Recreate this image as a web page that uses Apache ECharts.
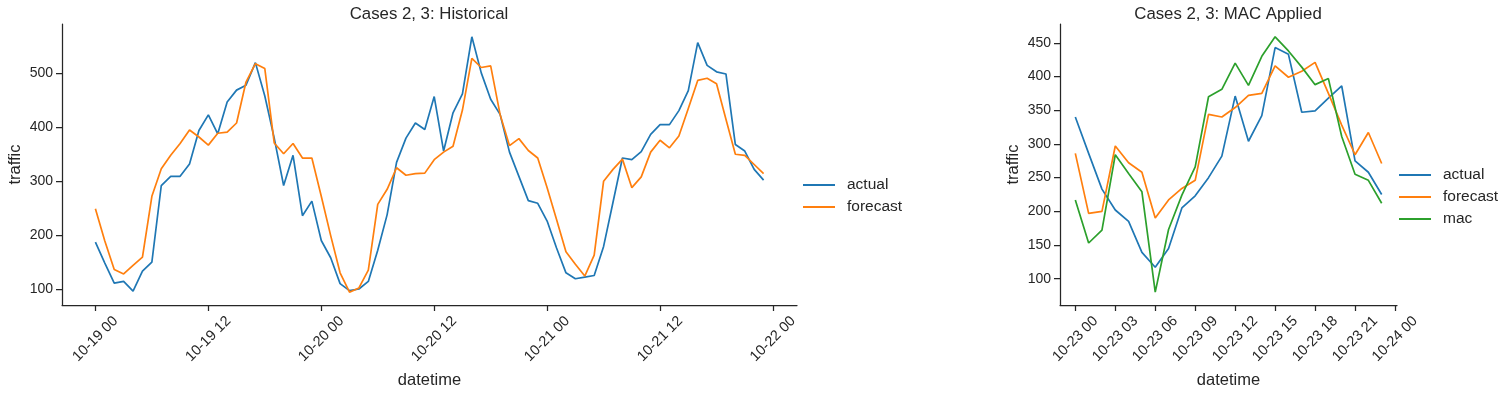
<!DOCTYPE html>
<html>
<head>
<meta charset="utf-8">
<script src="https://cdn.jsdelivr.net/npm/echarts@6/dist/echarts.min.js"></script>
<style>
  html, body { margin: 0; padding: 0; background: #ffffff; }
  #chart { width: 1511px; height: 394px; }
</style>
</head>
<body>
<div id="chart"></div>
<script>
// ---------- data ----------
const histTitle = 'Cases 2, 3: Historical';
const macTitle = 'Cases 2, 3: MAC Applied';

// hourly values from 10-19 00 to 10-21 23
const histActual = [187, 148, 111, 114, 96, 133, 150, 292, 309, 309, 332, 394, 423, 388, 447, 469, 478, 520, 458, 380, 292, 348, 236, 263,
  190, 158, 110, 97, 100, 114, 172, 238, 335, 380, 408, 396, 457, 356, 427, 462, 568, 501, 452, 424, 354, 309, 264, 259,
  226, 176, 130, 119, 122, 125, 179, 261, 343, 340, 355, 387, 405, 405, 431, 468, 557, 515, 503, 499, 368, 356, 322, 302];
const histForecast = [249, 189, 136, 128, 144, 159, 272, 323, 348, 370, 395, 382, 367, 389, 391, 408, 484, 518, 509, 371, 351, 370, 343, 343,
  272, 199, 130, 94, 102, 135, 257, 285, 325, 311, 314, 315, 340, 354, 365, 432, 528, 511, 514, 424, 366, 379, 357, 343,
  288, 229, 169, 146, 124, 163, 300, 322, 341, 288, 308, 354, 376, 362, 384, 435, 487, 491, 481, 415, 350, 348, 331, 314];

// hourly values from 10-23 00 to 10-23 23
const macActual = [340, 286, 233, 202, 185, 139, 117, 145, 205, 223, 250, 282, 371, 304, 342, 443, 433, 347, 349, 368, 386, 275, 258, 225];
const macForecast = [286, 197, 200, 297, 272, 258, 190, 217, 234, 246, 344, 340, 354, 372, 375, 416, 399, 408, 421, 375, 328, 284, 317, 271];
const macMac = [217, 153, 172, 284, 256, 229, 80, 173, 224, 266, 370, 381, 420, 387, 430, 459, 438, 414, 388, 397, 311, 255, 246, 212];

// tick positions (hours from start) and labels
const histTickHours = [0, 12, 24, 36, 48, 60, 72];
const histTickLabels = ['10-19 00', '10-19 12', '10-20 00', '10-20 12', '10-21 00', '10-21 12', '10-22 00'];
const macTickHours = [0, 3, 6, 9, 12, 15, 18, 21, 24];
const macTickLabels = ['10-23 00', '10-23 03', '10-23 06', '10-23 09', '10-23 12', '10-23 15', '10-23 18', '10-23 21', '10-24 00'];
const histYTicks = [100, 200, 300, 400, 500];
const macYTicks = [100, 150, 200, 250, 300, 350, 400, 450];

// ---------- styling ----------
const FONT = '"Liberation Sans", Arial, sans-serif';
const TXT = '#262626';
const C_ACTUAL = '#1f77b4', C_FORECAST = '#ff7f0e', C_MAC = '#2ca02c';

function toPairs(vals) { return vals.map((v, i) => [i, v]); }

function xAxisCfg(gridIndex, min, max, ticks, labels) {
  return {
    type: 'value', gridIndex, min, max,
    name: 'datetime', nameLocation: 'middle', nameGap: 64,
    nameTextStyle: { fontFamily: FONT, fontSize: 16.5, color: TXT },
    splitLine: { show: false },
    axisLine: { show: true, onZero: false, lineStyle: { color: TXT, width: 1.25 } },
    axisTick: { show: true, length: 6, lineStyle: { color: TXT, width: 1.25 }, customValues: ticks },
    axisLabel: {
      customValues: ticks, rotate: 45, align: 'center', verticalAlign: 'middle', margin: 34,
      fontFamily: FONT, fontSize: 14.5, color: TXT,
      formatter: v => { const i = ticks.indexOf(v); return i >= 0 ? labels[i] : ''; }
    }
  };
}
function yAxisCfg(gridIndex, min, max, ticks) {
  return {
    type: 'value', gridIndex, min, max,
    name: 'traffic', nameLocation: 'middle', nameGap: 38,
    nameTextStyle: { fontFamily: FONT, fontSize: 16.5, color: TXT },
    splitLine: { show: false },
    axisLine: { show: true, onZero: false, lineStyle: { color: TXT, width: 1.25 } },
    axisTick: { show: true, length: 6, lineStyle: { color: TXT, width: 1.25 }, customValues: ticks },
    axisLabel: { customValues: ticks, margin: 9, fontFamily: FONT, fontSize: 14, color: TXT }
  };
}
function lineSeries(name, data, color, xi, yi) {
  return {
    type: 'line', name, data: toPairs(data), xAxisIndex: xi, yAxisIndex: yi,
    symbol: 'none', showSymbol: false, animation: false,
    lineStyle: { color, width: 1.7 }, itemStyle: { color }
  };
}
const legendBase = {
  orient: 'vertical', icon: 'rect', itemWidth: 32, itemHeight: 2, itemGap: 6, padding: 0,
  textStyle: { fontFamily: FONT, fontSize: 15.5, color: TXT, padding: [0, 0, 0, 7] },
  selectedMode: false
};

const chart = echarts.init(document.getElementById('chart'));
chart.setOption({
  backgroundColor: '#ffffff',
  animation: false,
  graphic: [
    { type: 'text', x: 429, y: 14, style: { text: histTitle, align: 'center', verticalAlign: 'middle', fontFamily: FONT, fontSize: 16.8, fill: TXT } },
    { type: 'text', x: 1228, y: 14, style: { text: macTitle, align: 'center', verticalAlign: 'middle', fontFamily: FONT, fontSize: 16.8, fill: TXT } }
  ],
  grid: [
    { left: 62, right: 714, top: 24, bottom: 89 },
    { left: 1060, right: 114, top: 24, bottom: 89 }
  ],
  xAxis: [
    xAxisCfg(0, -3.55, 74.55, histTickHours, histTickLabels),
    xAxisCfg(1, -1.15, 24.15, macTickHours, macTickLabels)
  ],
  yAxis: [
    yAxisCfg(0, 70.3, 591.7, histYTicks),
    yAxisCfg(1, 61, 478, macYTicks)
  ],
  legend: [
    Object.assign({}, legendBase, { left: 803, top: 177, data: ['actual', 'forecast'] }),
    Object.assign({}, legendBase, { left: 1399, top: 167, data: ['actual', 'forecast', 'mac'] })
  ],
  series: [
    lineSeries('actual', histActual, C_ACTUAL, 0, 0),
    lineSeries('forecast', histForecast, C_FORECAST, 0, 0),
    lineSeries('actual', macActual, C_ACTUAL, 1, 1),
    lineSeries('forecast', macForecast, C_FORECAST, 1, 1),
    lineSeries('mac', macMac, C_MAC, 1, 1)
  ]
});
</script>
</body>
</html>
